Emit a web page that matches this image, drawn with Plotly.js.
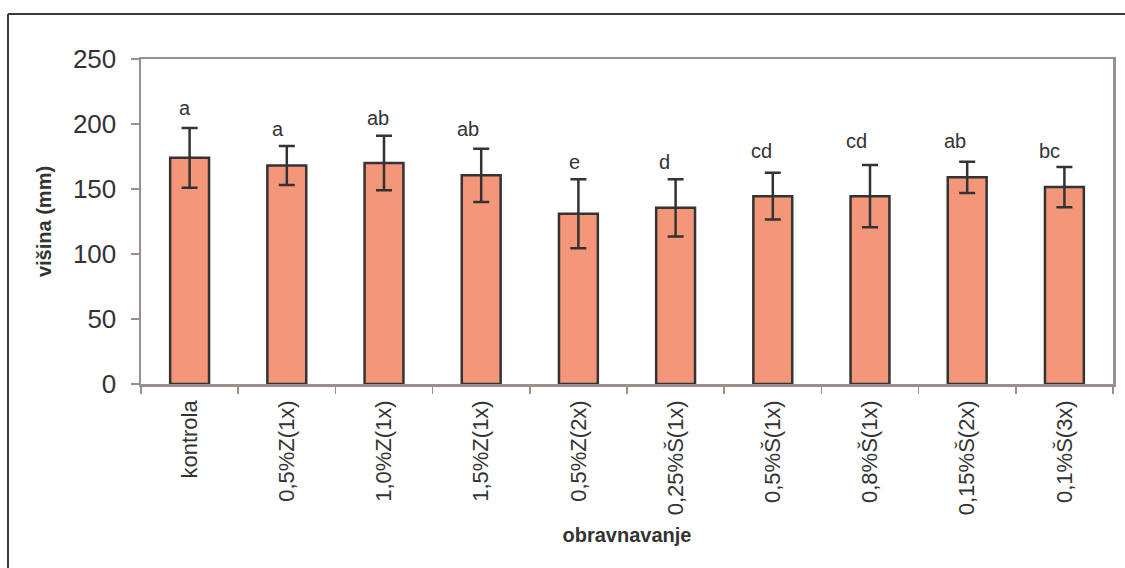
<!DOCTYPE html>
<html>
<head>
<meta charset="utf-8">
<script src="https://cdn.plot.ly/plotly-3.0.1.min.js"></script>
<style>
  html, body { margin: 0; padding: 0; background: #ffffff; }
  #chart { width: 1125px; height: 568px; }
</style>
</head>
<body>
<div id="chart"></div>
<script>
// ---- data ----
const categories = ['kontrola', '0,5%Z(1x)', '1,0%Z(1x)', '1,5%Z(1x)', '0,5%Z(2x)',
                    '0,25%Š(1x)', '0,5%Š(1x)', '0,8%Š(1x)', '0,15%Š(2x)', '0,1%Š(3x)'];
const heightMean = [174, 168, 170, 160.5, 131, 135.5, 144.5, 144.5, 159, 151.5];
const heightErr  = [23, 15, 21, 20.5, 26.5, 22, 18, 24, 12, 15.5];
const letters    = ['a', 'a', 'ab', 'ab', 'e', 'd', 'cd', 'cd', 'ab', 'bc'];
const letterY    = [212, 196, 204.5, 196, 170.5, 171, 179, 187, 187, 179.5];
const yTicks     = [0, 50, 100, 150, 200, 250];

// ---- style ----
const letterShift = [-5, -9, -6, -13, -4, -11, -11, -14, -12, -15];
const txt = '#333333';
const axisCol = '#9b8f8b';
const FONT = 'Liberation Sans, Arial, sans-serif';

const trace = {
  type: 'bar',
  x: categories,
  y: heightMean,
  width: 0.4,
  marker: { color: '#f4967a', line: { color: '#333333', width: 2.5 } },
  error_y: { type: 'data', array: heightErr, visible: true, color: '#333333', thickness: 2.5, width: 8 },
  hoverinfo: 'x+y'
};

const annotations = categories.map((c, i) => ({
  x: c, y: letterY[i], xref: 'x', yref: 'y',
  text: letters[i], showarrow: false, xshift: letterShift[i],
  yanchor: 'middle', xanchor: 'center',
  font: { family: FONT, size: 20, color: txt }
}));

// outer frame (top and left edges visible in the reference)
const W = 972, H = 325;
const fx = (px) => (px - 141) / W;
const fy = (py) => (384 - py) / H;
const shapes = [
  { type: 'line', xref: 'paper', yref: 'paper', x0: fx(8), x1: fx(1130), y0: fy(14), y1: fy(14),
    line: { color: '#3a3a3a', width: 2 } },
  { type: 'line', xref: 'paper', yref: 'paper', x0: fx(8), x1: fx(8), y0: fy(14), y1: fy(575),
    line: { color: '#3a3a3a', width: 2 } }
];

const layout = {
  width: 1125, height: 568,
  margin: { l: 141, r: 12, t: 59, b: 184 },
  paper_bgcolor: '#ffffff', plot_bgcolor: '#ffffff',
  showlegend: false,
  bargap: 0.6,
  font: { family: FONT, color: txt },
  xaxis: {
    type: 'category',
    tickangle: -90,
    tickfont: { family: FONT, size: 22, color: txt },
    ticks: 'outside', ticklen: 7, tickwidth: 1.5, tickcolor: axisCol,
    tickson: 'boundaries',
    ticklabelstandoff: 5,
    showline: true, linecolor: axisCol, linewidth: 2.5, mirror: true,
    showgrid: false, zeroline: false,
    title: { text: 'obravnavanje', font: { family: FONT, size: 20, color: txt, weight: 'bold' }, standoff: 14 }
  },
  yaxis: {
    range: [0, 250],
    tickvals: yTicks,
    tickfont: { family: FONT, size: 26, color: txt },
    ticks: 'outside', ticklen: 8, tickwidth: 1.5, tickcolor: axisCol,
    ticklabelstandoff: 9,
    showline: true, linecolor: axisCol, linewidth: 2.5, mirror: true,
    showgrid: false, zeroline: false,
    title: { text: 'višina (mm)', font: { family: FONT, size: 20, color: txt, weight: 'bold' }, standoff: 16 }
  },
  annotations: annotations,
  shapes: shapes
};

Plotly.newPlot('chart', [trace], layout, { displayModeBar: false, staticPlot: true });
</script>
</body>
</html>
